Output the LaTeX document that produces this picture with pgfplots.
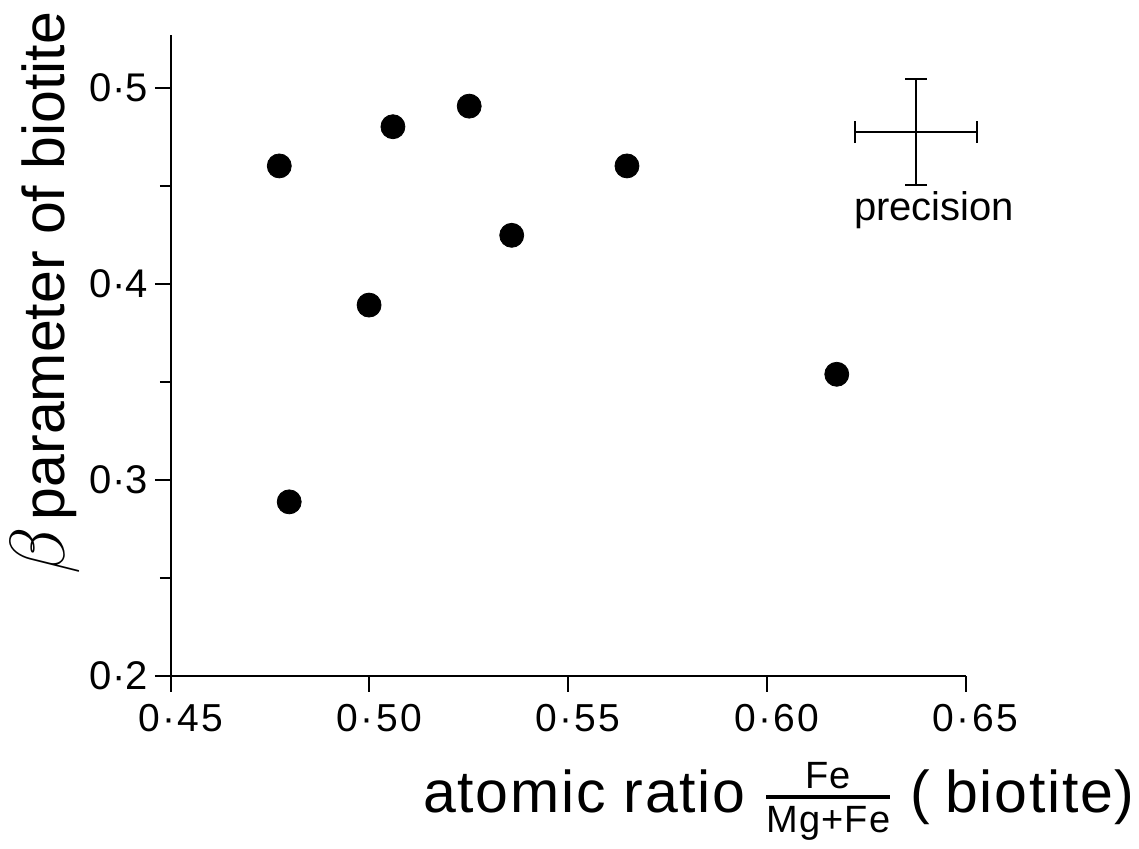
\RequirePackage{fix-cm}
\documentclass[border=0pt]{standalone}
\usepackage{amsmath}
\usepackage{fontspec}
\setmainfont{Liberation Sans}
\usepackage{pgfplots}
\pgfplotsset{compat=1.18}
\begin{document}
\begin{tikzpicture}
\begin{axis}[
  at={(85.4pt,86.25pt)}, anchor=south west,
  scale only axis, width=397.35pt, height=320.45pt,
  xmin=0.45, xmax=0.65, ymin=0.2, ymax=0.527,
  axis lines=left, axis line style={-, line width=1pt},
  xtick={0.45,0.5,0.55,0.6,0.65},
  xticklabels={0·45,0·50,0·55,0·60,0·65},
  ytick={0.2,0.3,0.4,0.5},
  yticklabels={0·2,0·3,0·4,0·5},
  minor ytick={0.25,0.35,0.45},
  tick align=outside,
  major tick length=8pt, minor tick length=5.5pt,
  tick style={black, line width=1pt},
  xticklabel style={font=\fontsize{19.5}{20}\selectfont\addfontfeatures{LetterSpace=6}, xshift=5pt, yshift=-3pt},
  yticklabel style={font=\fontsize{20}{20}\selectfont},
  clip=false,
]
\addplot[only marks, mark=*, mark size=6pt, black] coordinates {
(0.4773,0.460) (0.5059,0.480) (0.5251,0.4905) (0.5358,0.4246)
(0.5648,0.460) (0.4999,0.389) (0.4798,0.2886) (0.6176,0.3537)};
\addplot[black, line width=1pt, no markers,
  error bars/.cd, x dir=both, x explicit, y dir=both, y explicit,
  error bar style={line width=1pt, black},
  error mark options={black, line width=1pt, mark size=5.5pt, rotate=90}]
  coordinates {(0.6376,0.4773) +- (0.01535,0.0268)};
\node[anchor=base, font=\fontsize{20}{20}\selectfont, inner sep=0pt] at (axis cs:0.6421,0.4323) {precision};
\end{axis}
\node[rotate=90, anchor=base west, inner sep=0pt] at (32pt,136.5pt)
  {\fontsize{39}{39}\selectfont$\beta$\hspace{3.5pt}\fontsize{29.5}{30}\selectfont parameter of biotite};
\node[anchor=base east, inner sep=0pt] at (567.5pt,18pt)
  {\fontsize{29.5}{30}\selectfont\addfontfeatures{LetterSpace=3}atomic ratio $\genfrac{}{}{2pt}{1}{\mbox{\fontsize{19}{19}\selectfont Fe}}{\mbox{\fontsize{19}{19}\selectfont Mg+Fe}}$ (\hspace{0.25em}biotite)};
\pgfresetboundingbox
\path[use as bounding box] (0,0) rectangle (569.5pt,424pt);
\end{tikzpicture}
\end{document}
